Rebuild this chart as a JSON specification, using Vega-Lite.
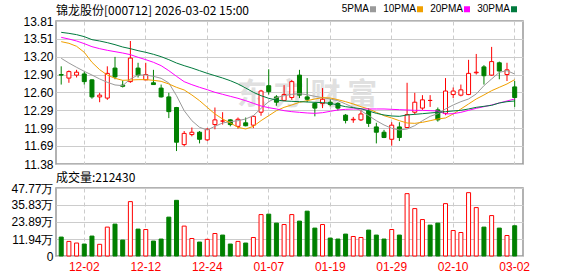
{
"$schema": "https://vega.github.io/schema/vega-lite/v6.json",
"background": "white",
"padding": {"left": 5, "top": 4, "right": 5, "bottom": 0},
"config": {
  "view": {"stroke": "#999999", "strokeWidth": 1.5},
  "font": "Liberation Sans",
  "axis": {"labelFont": "Liberation Sans", "labelFontSize": 12, "labelColor": "#000000", "ticks": false, "domain": false, "gridColor": "#cccccc", "gridWidth": 1, "title": null, "labelOverlap": false}
},
"datasets": {
"k": [
{"d":"11-27","o":12.90,"h":13.04,"l":12.73,"c":12.89,"v":13.3,"ma5":13.176,"ma10":13.459,"ma20":13.532,"ma30":13.617},
{"d":"11-28","o":12.84,"h":12.97,"l":12.76,"c":12.95,"v":10.25,"ma5":13.096,"ma10":13.431,"ma20":13.504,"ma30":13.600},
{"d":"12-01","o":12.89,"h":12.98,"l":12.85,"c":12.94,"v":9.1,"ma5":13.023,"ma10":13.380,"ma20":13.470,"ma30":13.578},
{"d":"12-02","o":12.91,"h":12.95,"l":12.73,"c":12.78,"v":8.4,"ma5":12.955,"ma10":13.278,"ma20":13.425,"ma30":13.544},
{"d":"12-03","o":12.81,"h":12.82,"l":12.49,"c":12.52,"v":14.0,"ma5":12.892,"ma10":13.108,"ma20":13.374,"ma30":13.493},
{"d":"12-04","o":12.52,"h":12.59,"l":12.43,"c":12.55,"v":8.2,"ma5":12.825,"ma10":12.983,"ma20":13.340,"ma30":13.470},
{"d":"12-05","o":12.50,"h":13.04,"l":12.47,"c":12.92,"v":20.3,"ma5":12.768,"ma10":12.892,"ma20":13.312,"ma30":13.442},
{"d":"12-08","o":13.01,"h":13.20,"l":12.82,"c":12.86,"v":22.4,"ma5":12.723,"ma10":12.836,"ma20":13.289,"ma30":13.408},
{"d":"12-09","o":12.72,"h":12.80,"l":12.68,"c":12.70,"v":11.2,"ma5":12.711,"ma10":12.802,"ma20":13.266,"ma30":13.368},
{"d":"12-10","o":12.78,"h":13.47,"l":12.76,"c":13.18,"v":38.2,"ma5":12.825,"ma10":12.807,"ma20":13.238,"ma30":13.340},
{"d":"12-11","o":13.01,"h":13.10,"l":12.85,"c":12.89,"v":18.9,"ma5":12.892,"ma10":12.813,"ma20":13.193,"ma30":13.306},
{"d":"12-12","o":12.81,"h":13.10,"l":12.81,"c":12.90,"v":18.6,"ma5":12.892,"ma10":12.813,"ma20":13.153,"ma30":13.278},
{"d":"12-15","o":12.76,"h":12.98,"l":12.73,"c":12.73,"v":10.5,"ma5":12.870,"ma10":12.802,"ma20":13.108,"ma30":13.244},
{"d":"12-16","o":12.67,"h":12.73,"l":12.51,"c":12.52,"v":11.9,"ma5":12.836,"ma10":12.785,"ma20":13.051,"ma30":13.204},
{"d":"12-17","o":12.52,"h":12.59,"l":12.16,"c":12.27,"v":27.3,"ma5":12.757,"ma10":12.740,"ma20":12.966,"ma30":13.153},
{"d":"12-18","o":12.34,"h":12.35,"l":11.60,"c":11.75,"v":39.1,"ma5":12.541,"ma10":12.683,"ma20":12.870,"ma30":13.096},
{"d":"12-19","o":11.71,"h":11.94,"l":11.68,"c":11.90,"v":21.0,"ma5":12.286,"ma10":12.638,"ma20":12.779,"ma30":13.051},
{"d":"12-22","o":11.88,"h":12.00,"l":11.85,"c":11.92,"v":12.3,"ma5":12.116,"ma10":12.553,"ma20":12.728,"ma30":13.011},
{"d":"12-23","o":11.92,"h":11.94,"l":11.73,"c":11.80,"v":9.8,"ma5":12.003,"ma10":12.456,"ma20":12.683,"ma30":12.966},
{"d":"12-24","o":11.79,"h":11.99,"l":11.77,"c":11.97,"v":11.7,"ma5":11.958,"ma10":12.343,"ma20":12.643,"ma30":12.921},
{"d":"12-25","o":12.05,"h":12.34,"l":11.97,"c":12.13,"v":15.8,"ma5":12.020,"ma10":12.230,"ma20":12.598,"ma30":12.881},
{"d":"12-26","o":12.11,"h":12.26,"l":12.05,"c":12.11,"v":14.7,"ma5":12.077,"ma10":12.145,"ma20":12.564,"ma30":12.841},
{"d":"12-29","o":12.13,"h":12.14,"l":12.02,"c":12.05,"v":8.4,"ma5":12.099,"ma10":12.077,"ma20":12.530,"ma30":12.796},
{"d":"12-30","o":12.02,"h":12.17,"l":11.98,"c":12.14,"v":10.25,"ma5":12.116,"ma10":12.003,"ma20":12.496,"ma30":12.740},
{"d":"12-31","o":12.08,"h":12.17,"l":12.02,"c":12.03,"v":9.1,"ma5":12.145,"ma10":11.975,"ma20":12.456,"ma30":12.672},
{"d":"01-05","o":12.04,"h":12.20,"l":11.99,"c":12.19,"v":13.0,"ma5":12.201,"ma10":12.020,"ma20":12.411,"ma30":12.598},
{"d":"01-06","o":12.26,"h":12.64,"l":12.20,"c":12.62,"v":29.1,"ma5":12.326,"ma10":12.117,"ma20":12.366,"ma30":12.541},
{"d":"01-07","o":12.71,"h":12.99,"l":12.56,"c":12.61,"v":29.4,"ma5":12.439,"ma10":12.201,"ma20":12.337,"ma30":12.496},
{"d":"01-08","o":12.52,"h":12.55,"l":12.37,"c":12.43,"v":23.1,"ma5":12.507,"ma10":12.286,"ma20":12.315,"ma30":12.468},
{"d":"01-09","o":12.46,"h":12.72,"l":12.45,"c":12.56,"v":22.1,"ma5":12.541,"ma10":12.343,"ma20":12.286,"ma30":12.451},
{"d":"01-12","o":12.51,"h":12.81,"l":12.47,"c":12.78,"v":29.1,"ma5":12.564,"ma10":12.383,"ma20":12.269,"ma30":12.445},
{"d":"01-13","o":12.89,"h":12.98,"l":12.50,"c":12.55,"v":24.5,"ma5":12.575,"ma10":12.428,"ma20":12.258,"ma30":12.439},
{"d":"01-14","o":12.52,"h":12.84,"l":12.43,"c":12.48,"v":31.5,"ma5":12.558,"ma10":12.456,"ma20":12.247,"ma30":12.434},
{"d":"01-15","o":12.41,"h":12.43,"l":12.19,"c":12.33,"v":19.6,"ma5":12.530,"ma10":12.485,"ma20":12.241,"ma30":12.428},
{"d":"01-16","o":12.41,"h":12.67,"l":12.33,"c":12.48,"v":22.1,"ma5":12.507,"ma10":12.507,"ma20":12.252,"ma30":12.422},
{"d":"01-19","o":12.43,"h":12.48,"l":12.36,"c":12.39,"v":12.6,"ma5":12.485,"ma10":12.502,"ma20":12.275,"ma30":12.411},
{"d":"01-20","o":12.41,"h":12.43,"l":12.29,"c":12.33,"v":11.9,"ma5":12.456,"ma10":12.473,"ma20":12.298,"ma30":12.383},
{"d":"01-21","o":12.21,"h":12.23,"l":12.07,"c":12.12,"v":15.4,"ma5":12.400,"ma10":12.439,"ma20":12.309,"ma30":12.354},
{"d":"01-22","o":12.13,"h":12.18,"l":12.08,"c":12.14,"v":13.7,"ma5":12.343,"ma10":12.400,"ma20":12.315,"ma30":12.337},
{"d":"01-23","o":12.13,"h":12.30,"l":12.11,"c":12.23,"v":13.0,"ma5":12.286,"ma10":12.354,"ma20":12.315,"ma30":12.320},
{"d":"01-26","o":12.28,"h":12.33,"l":12.01,"c":12.07,"v":18.2,"ma5":12.201,"ma10":12.315,"ma20":12.315,"ma30":12.281},
{"d":"01-27","o":12.01,"h":12.08,"l":11.73,"c":11.92,"v":14.7,"ma5":12.116,"ma10":12.258,"ma20":12.315,"ma30":12.241},
{"d":"01-28","o":11.92,"h":11.96,"l":11.82,"c":11.83,"v":11.9,"ma5":12.043,"ma10":12.201,"ma20":12.315,"ma30":12.213},
{"d":"01-29","o":11.80,"h":12.09,"l":11.69,"c":12.04,"v":18.6,"ma5":11.986,"ma10":12.162,"ma20":12.309,"ma30":12.196},
{"d":"01-30","o":12.01,"h":12.09,"l":11.77,"c":11.83,"v":14.7,"ma5":11.958,"ma10":12.116,"ma20":12.303,"ma30":12.190},
{"d":"02-02","o":12.00,"h":12.76,"l":11.99,"c":12.22,"v":43.8,"ma5":11.975,"ma10":12.077,"ma20":12.298,"ma30":12.213},
{"d":"02-03","o":12.26,"h":12.59,"l":12.22,"c":12.43,"v":33.3,"ma5":12.032,"ma10":12.071,"ma20":12.292,"ma30":12.224},
{"d":"02-04","o":12.33,"h":12.55,"l":12.30,"c":12.47,"v":25.6,"ma5":12.116,"ma10":12.088,"ma20":12.292,"ma30":12.235},
{"d":"02-05","o":12.46,"h":12.55,"l":12.35,"c":12.46,"v":21.7,"ma5":12.190,"ma10":12.116,"ma20":12.286,"ma30":12.247},
{"d":"02-06","o":12.30,"h":12.34,"l":12.10,"c":12.13,"v":23.1,"ma5":12.235,"ma10":12.145,"ma20":12.281,"ma30":12.258},
{"d":"02-09","o":12.24,"h":12.84,"l":12.21,"c":12.62,"v":36.8,"ma5":12.315,"ma10":12.162,"ma20":12.230,"ma30":12.269},
{"d":"02-10","o":12.56,"h":12.68,"l":12.50,"c":12.62,"v":17.9,"ma5":12.383,"ma10":12.230,"ma20":12.235,"ma30":12.281},
{"d":"02-11","o":12.55,"h":12.73,"l":12.53,"c":12.64,"v":16.5,"ma5":12.439,"ma10":12.315,"ma20":12.258,"ma30":12.292},
{"d":"02-12","o":12.56,"h":13.15,"l":12.55,"c":12.92,"v":44.5,"ma5":12.485,"ma10":12.400,"ma20":12.292,"ma30":12.315},
{"d":"02-13","o":12.93,"h":13.25,"l":12.90,"c":12.94,"v":34.0,"ma5":12.570,"ma10":12.485,"ma20":12.326,"ma30":12.343},
{"d":"02-24","o":13.03,"h":13.06,"l":12.73,"c":12.88,"v":20.3,"ma5":12.711,"ma10":12.553,"ma20":12.354,"ma30":12.360},
{"d":"02-25","o":12.89,"h":13.37,"l":12.88,"c":13.12,"v":28.4,"ma5":12.825,"ma10":12.626,"ma20":12.383,"ma30":12.377},
{"d":"02-26","o":13.10,"h":13.12,"l":12.82,"c":12.96,"v":19.6,"ma5":12.938,"ma10":12.683,"ma20":12.417,"ma30":12.417},
{"d":"02-27","o":12.90,"h":13.10,"l":12.79,"c":12.98,"v":14.4,"ma5":12.966,"ma10":12.740,"ma20":12.451,"ma30":12.439},
{"d":"03-02","o":12.69,"h":12.79,"l":12.35,"c":12.51,"v":21.243,"ma5":12.909,"ma10":12.813,"ma20":12.485,"ma30":12.451}
]
},
"spacing": 0,
"vconcat": [
{
  "width": 467,
  "height": 143,
  "title": {"text": "锦龙股份[000712] 2026-03-02 15:00", "anchor": "start", "frame": "group", "font": "Noto Sans CJK SC", "fontSize": 12, "fontWeight": "normal", "color": "#000000", "offset": -3},
  "data": {"name": "k"},
  "layer": [
    {
      "mark": {"type": "text", "font": "Noto Sans CJK SC", "fontSize": 30, "fontWeight": "bold", "color": "#e0e0e0", "align": "center", "baseline": "middle"},
      "encoding": {
        "x": {"field": "d", "type": "ordinal", "sort": null, "scale": {"type": "band", "paddingInner": 0.25, "paddingOuter": 0.505, "align": 0.3}, "axis": {"values": ["12-02","12-12","12-24","01-07","01-19","01-29","02-10","03-02"], "labels": false, "grid": true, "gridDash": [4, 3], "bandPosition": 0.5, "labelPadding": 0, "minExtent": 0, "maxExtent": 0}},
        "y": {"datum": 12.55, "type": "quantitative", "scale": {"domain": [11.38, 13.81], "nice": false, "zero": false}},
        "text": {"condition": {"test": "datum.d == '01-14'", "value": "东 方 财 富"}, "value": ""}
      }
    },
    {
      "mark": {"type": "rule", "strokeWidth": 1},
      "encoding": {
        "x": {"field": "d", "type": "ordinal", "sort": null},
        "y": {"field": "l", "type": "quantitative"},
        "y2": {"field": "h"},
        "stroke": {"condition": {"test": "datum.c >= datum.o", "value": "#ff0000"}, "value": "#008000"}
      }
    },
    {
      "mark": {"type": "bar", "size": 4, "strokeWidth": 1},
      "encoding": {
        "x": {"field": "d", "type": "ordinal", "sort": null},
        "y": {"field": "o", "type": "quantitative", "axis": {"values": [11.38, 11.69, 11.99, 12.29, 12.60, 12.90, 13.20, 13.51, 13.81], "tickCount": 20, "format": ".2f", "grid": true, "labelPadding": 3, "labelOverlap": false, "minExtent": 50, "maxExtent": 50}},
        "y2": {"field": "c"},
        "fill": {"condition": {"test": "datum.c >= datum.o", "value": "#ffffff"}, "value": "#008000"},
        "stroke": {"condition": {"test": "datum.c >= datum.o", "value": "#ff0000"}, "value": "#008000"}
      }
    },
    {
      "transform": [{"fold": ["ma5", "ma10", "ma20", "ma30"], "as": ["k", "val"]}],
      "mark": {"type": "line", "strokeWidth": 1},
      "encoding": {
        "x": {"field": "d", "type": "ordinal", "sort": null},
        "y": {"field": "val", "type": "quantitative"},
        "color": {"field": "k", "type": "nominal",
          "scale": {"domain": ["ma5", "ma10", "ma20", "ma30"], "range": ["#9a9a9a", "#f0a000", "#ff00ff", "#007a3d"]},
          "legend": {"orient": "none", "legendX": 312, "legendY": -17, "direction": "horizontal", "title": null,
            "symbolType": "square", "symbolSize": 9, "symbolStrokeWidth": 3,
            "labelFont": "Liberation Sans", "labelFontSize": 10, "labelColor": "#000000",
            "labelAlign": "right", "labelOffset": -9, "columnPadding": 2,
            "labelExpr": "{'ma5':'5PMA','ma10':'10PMA','ma20':'20PMA','ma30':'30PMA'}[datum.label]"}
        }
      }
    }
  ]
},
{
  "width": 467,
  "height": 68,
  "title": {"text": "成交量:212430", "anchor": "start", "frame": "group", "font": "Noto Sans CJK SC", "fontSize": 12, "fontWeight": "normal", "color": "#000000", "offset": -3},
  "data": {"name": "k"},
  "mark": {"type": "bar", "size": 4, "strokeWidth": 1},
  "encoding": {
    "x": {"field": "d", "type": "ordinal", "sort": null, "scale": {"type": "band", "paddingInner": 0.25, "paddingOuter": 0.505, "align": 0.3},
      "axis": {"values": ["12-02","12-12","12-24","01-07","01-19","01-29","02-10","03-02"], "labelColor": "#ff0000", "labelAngle": 0, "labelPadding": 5, "grid": true, "gridDash": [4, 3], "bandPosition": 0.5}},
    "y": {"field": "v", "type": "quantitative", "scale": {"domain": [0, 47.77], "nice": false},
      "axis": {"values": [0, 11.94, 23.89, 35.83, 47.77], "tickCount": 20, "labelExpr": "datum.value == 0 ? '0' : format(datum.value, '.2f') + '万'", "grid": true, "labelPadding": 3, "minExtent": 50, "maxExtent": 50}},
    "fill": {"condition": {"test": "datum.c > datum.o", "value": "#ffffff"}, "value": "#008000"},
    "stroke": {"condition": {"test": "datum.c > datum.o", "value": "#ff0000"}, "value": "#008000"}
  }
}
]
}
